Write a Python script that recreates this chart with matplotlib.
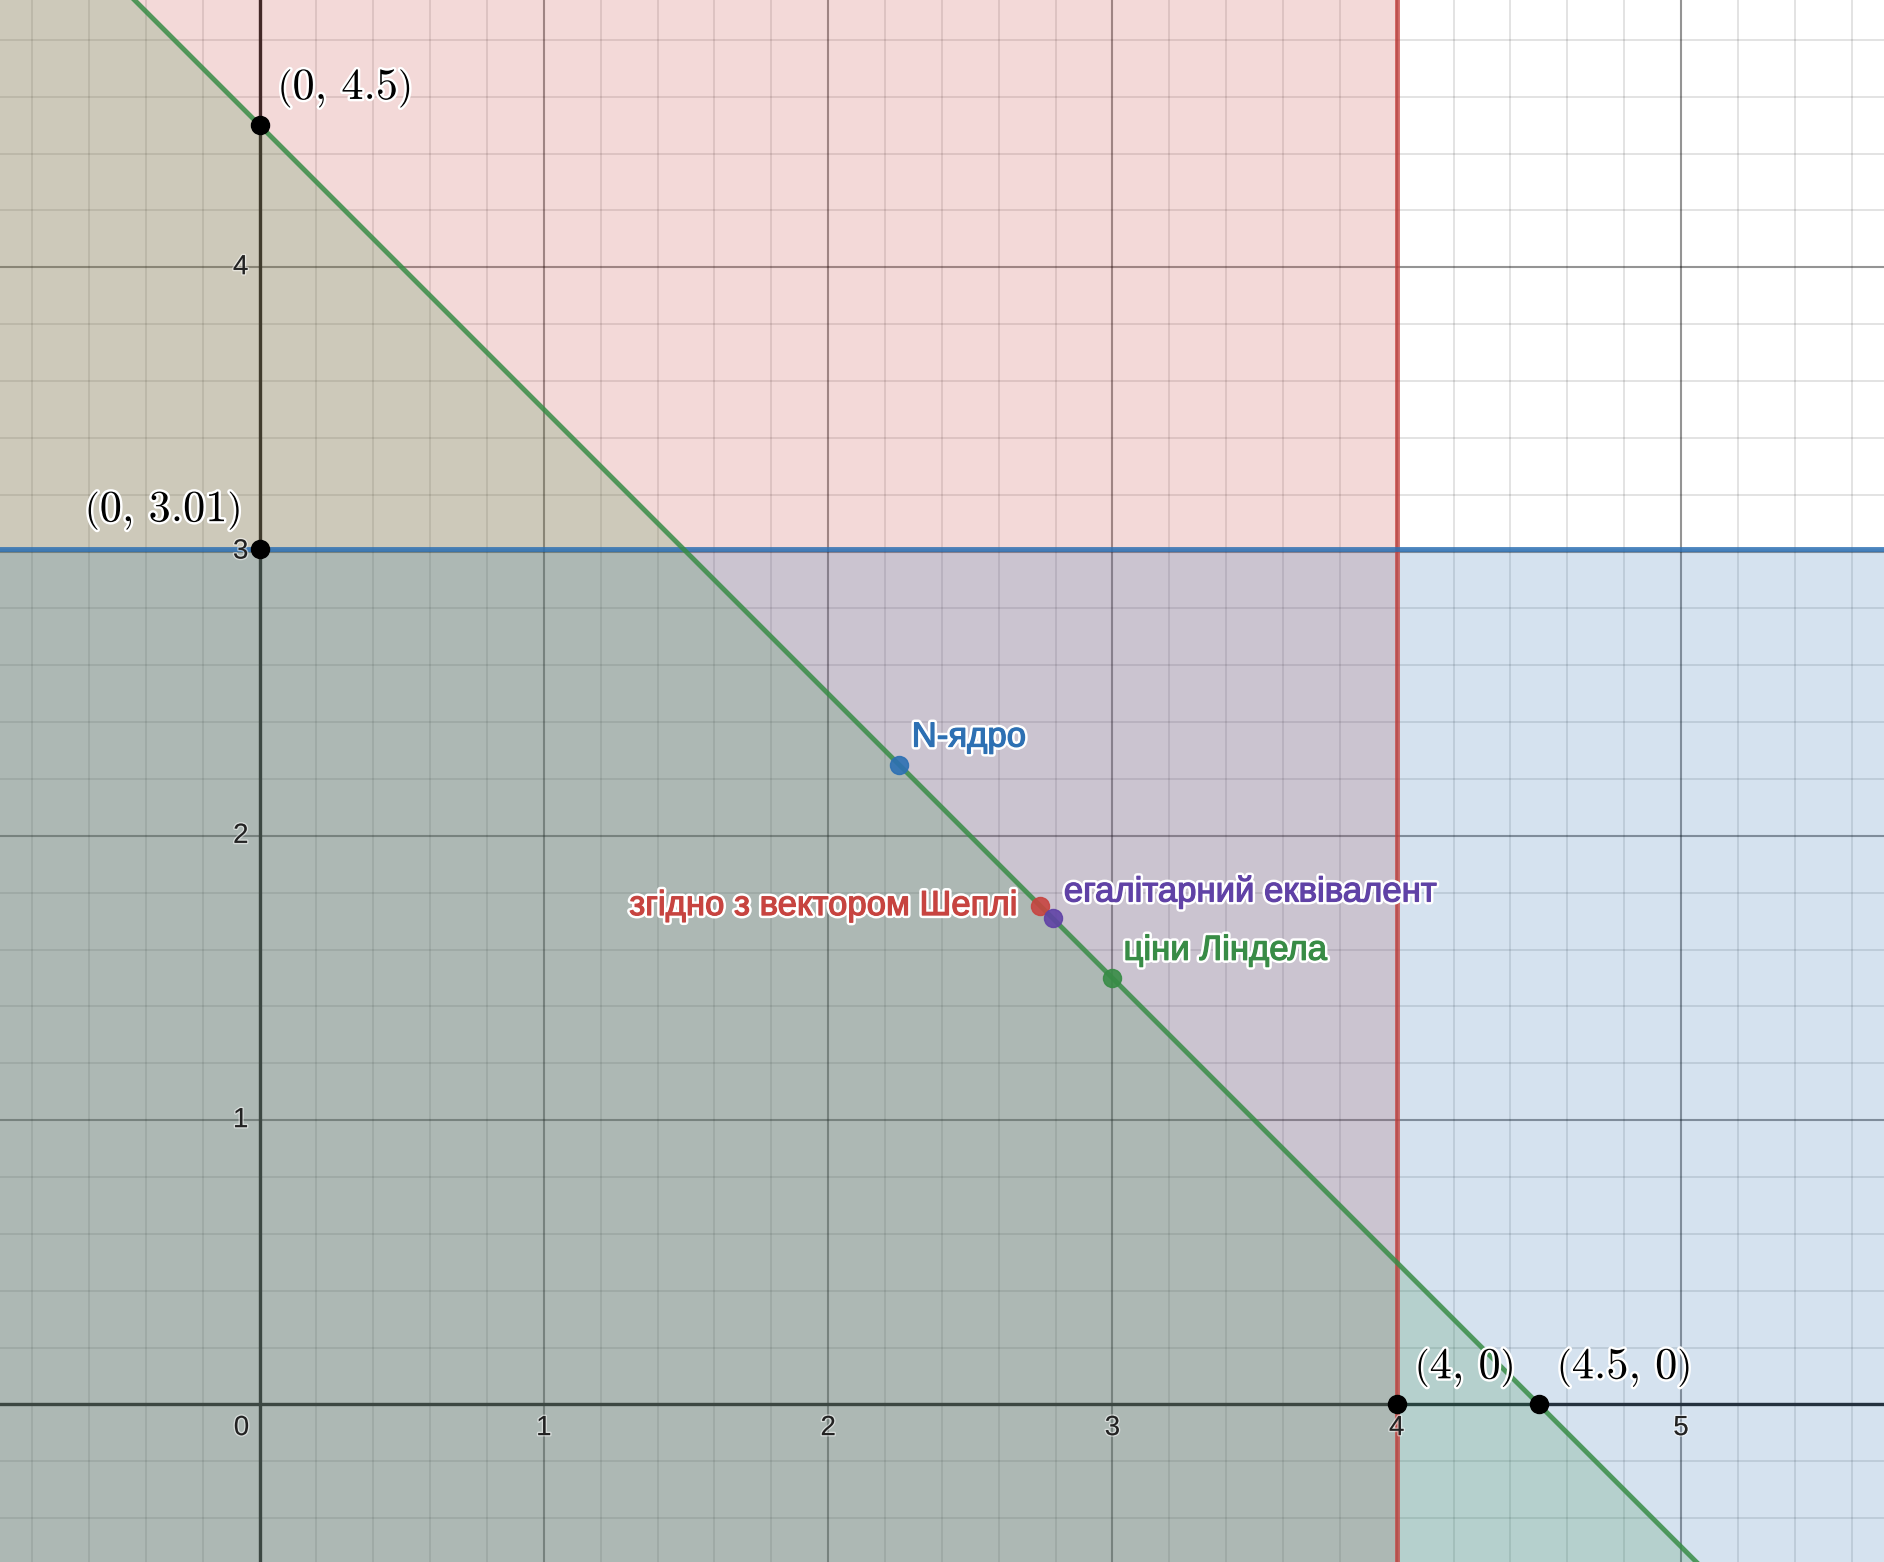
import numpy as np
import matplotlib
matplotlib.use("Agg")
from matplotlib import pyplot as plt
from matplotlib.ticker import MultipleLocator
import matplotlib.patheffects as pe

# Data: constraints of the game and the solution points
x1_max = 4.0          # x1 <= 4 (red)
x2_max = 3.01         # x2 <= 3.01 (blue)
total = 4.5           # x1 + x2 <= 4.5 (green)

corner_x = [0, 0, 4, 4.5]
corner_y = [4.5, 3.01, 0, 0]
corner_labels = [r"$\left(0,\,4.5\right)$", r"$\left(0,\,3.01\right)$",
                 r"$\left(4,\,0\right)$", r"$\left(4.5,\,0\right)$"]

sol_names = ["N-ядро", "згідно з вектором Шеплі", "егалітарний еквівалент", "ціни Ліндела"]
sol_x = [2.25, 2.745, 2.79, 3.0]
sol_y = [2.25, 1.755, 1.71, 1.5]

x_tick_vals = [0, 1, 2, 3, 4, 5]
y_tick_vals = [1, 2, 3, 4]

# Desmos colours
RED = "#c74440"
BLUE = "#2d70b3"
GREEN = "#388c46"
PURPLE = "#6042a6"
sol_colors = [BLUE, RED, PURPLE, GREEN]

plt.rcParams["mathtext.fontset"] = "cm"
plt.rcParams["font.family"] = ["Liberation Sans", "DejaVu Sans"]

fig = plt.figure(figsize=(18.84, 15.62), dpi=100)
ax = fig.add_axes([0, 0, 1, 1])
xlim = (-0.913, 5.714)
ylim = (-0.554, 4.940)
ax.set_xlim(xlim)
ax.set_ylim(ylim)

# grid (major every 1, minor every 0.2)
ax.xaxis.set_major_locator(MultipleLocator(1))
ax.yaxis.set_major_locator(MultipleLocator(1))
ax.xaxis.set_minor_locator(MultipleLocator(0.2))
ax.yaxis.set_minor_locator(MultipleLocator(0.2))
ax.grid(which="major", color="black", alpha=0.42, lw=1.5, zorder=0)
ax.grid(which="minor", color="black", alpha=0.13, lw=1.2, zorder=0)
ax.tick_params(which="both", length=0, labelbottom=False, labelleft=False)
for s in ax.spines.values():
    s.set_visible(False)
ax.set_axisbelow(True)

# axes
ax.axhline(0, color="#222222", lw=2.4, zorder=0.8)
ax.axvline(0, color="#222222", lw=2.4, zorder=0.8)

# shaded regions
xs = np.array(xlim)
ax.fill_betweenx(ylim, xlim[0], x1_max, color=RED, alpha=0.2, lw=0, zorder=1)
ax.fill_between(xs, ylim[0], x2_max, color=BLUE, alpha=0.2, lw=0, zorder=1)
ax.fill_between(xs, ylim[0], total - xs, color=GREEN, alpha=0.2, lw=0, zorder=1)

# boundary lines
ax.axvline(x1_max, color=RED, lw=3.5, alpha=0.8, zorder=2)
ax.axhline(x2_max, color=BLUE, lw=3.5, alpha=0.85, zorder=2)
ax.plot(xs, total - xs, color=GREEN, lw=3.5, alpha=0.85, zorder=2)

halo = [pe.withStroke(linewidth=3.5, foreground="white")]
thin_halo = [pe.withStroke(linewidth=2, foreground=(1, 1, 1, 0.5))]

# tick labels
for v in x_tick_vals:
    dx = -13 if v == 0 else 0
    ax.annotate(str(v), (v, 0), xytext=(dx, -17), textcoords="offset points",
                ha="center", va="center", fontsize=20, color="#222222",
                path_effects=thin_halo, zorder=3)
for v in y_tick_vals:
    ax.annotate(str(v), (0, v), xytext=(-8, 0), textcoords="offset points",
                ha="right", va="center", fontsize=20, color="#222222",
                path_effects=thin_halo, zorder=3)

# black corner points
ax.plot(corner_x, corner_y, "o", color="black", ms=13, zorder=5)
corner_offsets = [(13, 27), (-13, 28), (13, 27), (13, 27)]
for px, py, lab, off in zip(corner_x, corner_y, corner_labels, corner_offsets):
    ax.annotate(lab, (px, py), xytext=off, textcoords="offset points",
                ha="left" if off[0] > 0 else "right", va="center",
                fontsize=32, color="black", path_effects=halo, zorder=6)

# solution points
sol_offsets = [(9, 20), (-16, 0), (8, 19), (8, 20)]
for px, py, name, c, off in zip(sol_x, sol_y, sol_names, sol_colors, sol_offsets):
    ax.plot(px, py, "o", color=c, ms=13, alpha=0.9, zorder=5)
    bold_halo = [pe.Stroke(linewidth=4.5, foreground="white"),
                 pe.Stroke(linewidth=0.9, foreground=c), pe.Normal()]
    ax.annotate(name, (px, py), xytext=off, textcoords="offset points",
                ha="left" if off[0] > 0 else "right", va="center",
                fontsize=25, color=c, path_effects=bold_halo, zorder=6)

fig.savefig("out.png", dpi=100)
